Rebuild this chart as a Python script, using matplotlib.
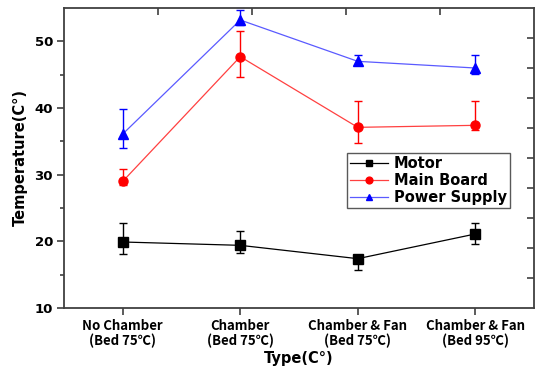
import matplotlib.pyplot as plt
import numpy as np

# data
categories = ["No Chamber\n(Bed 75\u2103)", "Chamber\n(Bed 75\u2103)",
              "Chamber & Fan\n(Bed 75\u2103)", "Chamber & Fan\n(Bed 95\u2103)"]

motor = [19.9, 19.4, 17.4, 21.1]
motor_hi = [22.7, 21.5, 18.0, 22.7]
motor_lo = [18.1, 18.3, 15.7, 19.6]

board = [29.0, 47.7, 37.1, 37.4]
board_hi = [30.9, 51.5, 41.1, 41.1]
board_lo = [28.5, 44.6, 34.7, 36.7]

power = [36.1, 53.2, 47.0, 46.0]
power_hi = [39.8, 54.7, 48.0, 48.0]
power_lo = [34.0, 52.5, 46.4, 45.1]

x = np.arange(1, len(categories) + 1)

fig = plt.figure(figsize=(5.35, 3.74), dpi=100)
ax = fig.add_axes([64 / 535, 1 - 308 / 374, 470 / 535, 300 / 374])

series = [
    ("Motor", motor, motor_hi, motor_lo, "black", "black", "s"),
    ("Main Board", board, board_hi, board_lo, "#ff4040", "red", "o"),
    ("Power Supply", power, power_hi, power_lo, "#5a5aff", "blue", "^"),
]
for name, vals, hi, lo, lc, mc, mk in series:
    vals = np.array(vals)
    err = [vals - np.array(lo), np.array(hi) - vals]
    ax.errorbar(x, vals, yerr=err, fmt="none", ecolor=mc, elinewidth=1.0,
                capsize=3, capthick=1.0)
    ax.plot(x, vals, color=lc, lw=0.9, marker=mk, ms=6.5, mfc=mc, mec=mc,
            label=name)

ax.set_xlim(0.5, 4.5)
ax.set_ylim(10, 55)
ax.set_yticks([10, 20, 30, 40, 50])
ax.set_yticks([15, 25, 35, 45], minor=True)
ax.set_xticks(x)
ax.set_xticklabels(categories, family=["Noto Sans CJK KR", "DejaVu Sans"],
                   fontsize=9.5, fontweight="bold", linespacing=1.05)
for lbl in ax.get_yticklabels():
    lbl.set_fontweight("bold")
    lbl.set_fontsize(9.5)
ax.tick_params(axis="both", which="major", direction="out", length=5,
               width=1.2, color="#404040", pad=3)
ax.tick_params(axis="y", which="minor", direction="out", length=3,
               width=1.2, color="#404040")

for sp in ax.spines.values():
    sp.set_color("#404040")
    sp.set_linewidth(1.3)

top = ax.secondary_xaxis("top")
top.set_xticks(np.linspace(0.5, 4.5, 6)[1:-1])
top.tick_params(direction="in", length=5, width=1.2, color="#404040",
                labeltop=False)
top.spines["top"].set_visible(False)
right = ax.secondary_yaxis("right")
right.set_yticks(np.linspace(10, 55, 11)[1:-1])
right.tick_params(direction="in", length=5, width=1.2, color="#404040",
                  labelright=False)
right.spines["right"].set_visible(False)

ax.set_ylabel("Temperature(C\u00b0)", fontsize=10.5, fontweight="bold",
              labelpad=5)
ax.set_xlabel("Type(C\u00b0)", fontsize=10.5, fontweight="bold", labelpad=2)

leg = ax.legend(loc="upper left", bbox_to_anchor=(0.602, 0.517),
                prop={"weight": "bold", "size": 10.5}, frameon=True,
                fancybox=False, edgecolor="#303030", borderpad=0.2,
                labelspacing=0.15, handlelength=2.6, handletextpad=0.4,
                borderaxespad=0, markerscale=0.75)
leg.get_frame().set_linewidth(1.0)

fig.savefig("out.png", dpi=100)
